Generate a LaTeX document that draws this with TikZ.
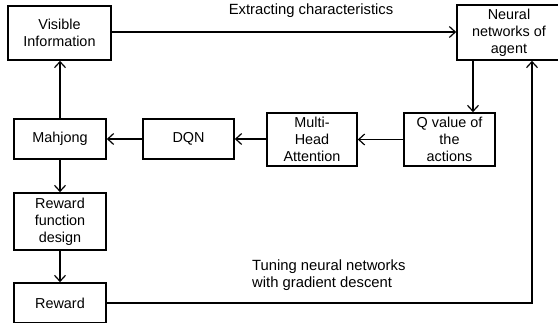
\documentclass[tikz,border=0pt]{standalone}
\usepackage{fontspec}
\setmainfont{Liberation Sans}
\usetikzlibrary{arrows.meta,calc}
\begin{document}
\begin{tikzpicture}[x=1pt,y=1pt,
  box/.style={draw=black,line width=1.6pt,align=center,inner sep=0pt,font=\fontsize{14.4}{17.2}\selectfont},
  conn/.style={draw=black,line width=1.2pt,-{Straight Barb[length=6pt,width=11pt,line width=1.2pt]}},
  lbl/.style={font=\fontsize{14.8}{16.5}\selectfont,inner sep=0pt}]
\clip (0,0) rectangle (558,322);
\fill[white] (0,0) rectangle (558,322);
% boxes (px coords: y flipped)
\node[box,minimum width=103,minimum height=54] (vi) at (59.5,289) {Visible\\Information};
\node[box,minimum width=104,minimum height=55] (nn) at (509,289.5) {Neural\\networks of\\agent};
\node[box,minimum width=92,minimum height=40] (mj) at (60,183) {Mahjong};
\node[box,minimum width=91,minimum height=40] (dqn) at (188.5,183) {DQN};
\node[box,minimum width=90,minimum height=53] (mha) at (312,182.5) {Multi-\\Head\\Attention};
\node[box,minimum width=91,minimum height=53] (qv) at (449.5,182.5) {Q value of\\the\\actions};
\node[box,minimum width=92,minimum height=57] (rfd) at (60,100.5) {Reward\\function\\design};
\node[box,minimum width=92,minimum height=40] (rw) at (60,19) {Reward};
% labels
\node[lbl] (l1) at (311,311) {Extracting characteristics};
\node[lbl,anchor=west,align=left] (l2) at (252,47) {Tuning neural networks\\with gradient descent};
% connectors
\draw[conn] (vi.east |- 0,290) -- (nn.west |- 0,290);
\coordinate (c1) at (473,0);
\draw[conn] (c1 |- nn.south) -- (c1 |- qv.north);
\draw[conn] (qv.west) -- (mha.east);
\draw[conn] (mha.west |- dqn.east) -- (dqn.east);
\draw[conn] (dqn.west) -- (mj.east);
\draw[conn] (mj.north) -- (vi.south -| mj.north);
\draw[conn] (mj.south) -- (rfd.north);
\draw[conn] (rfd.south) -- (rw.north);
\coordinate (c2) at (532,0);
\draw[conn] (rw.east) -| (c2 |- nn.south);
\end{tikzpicture}
\end{document}
